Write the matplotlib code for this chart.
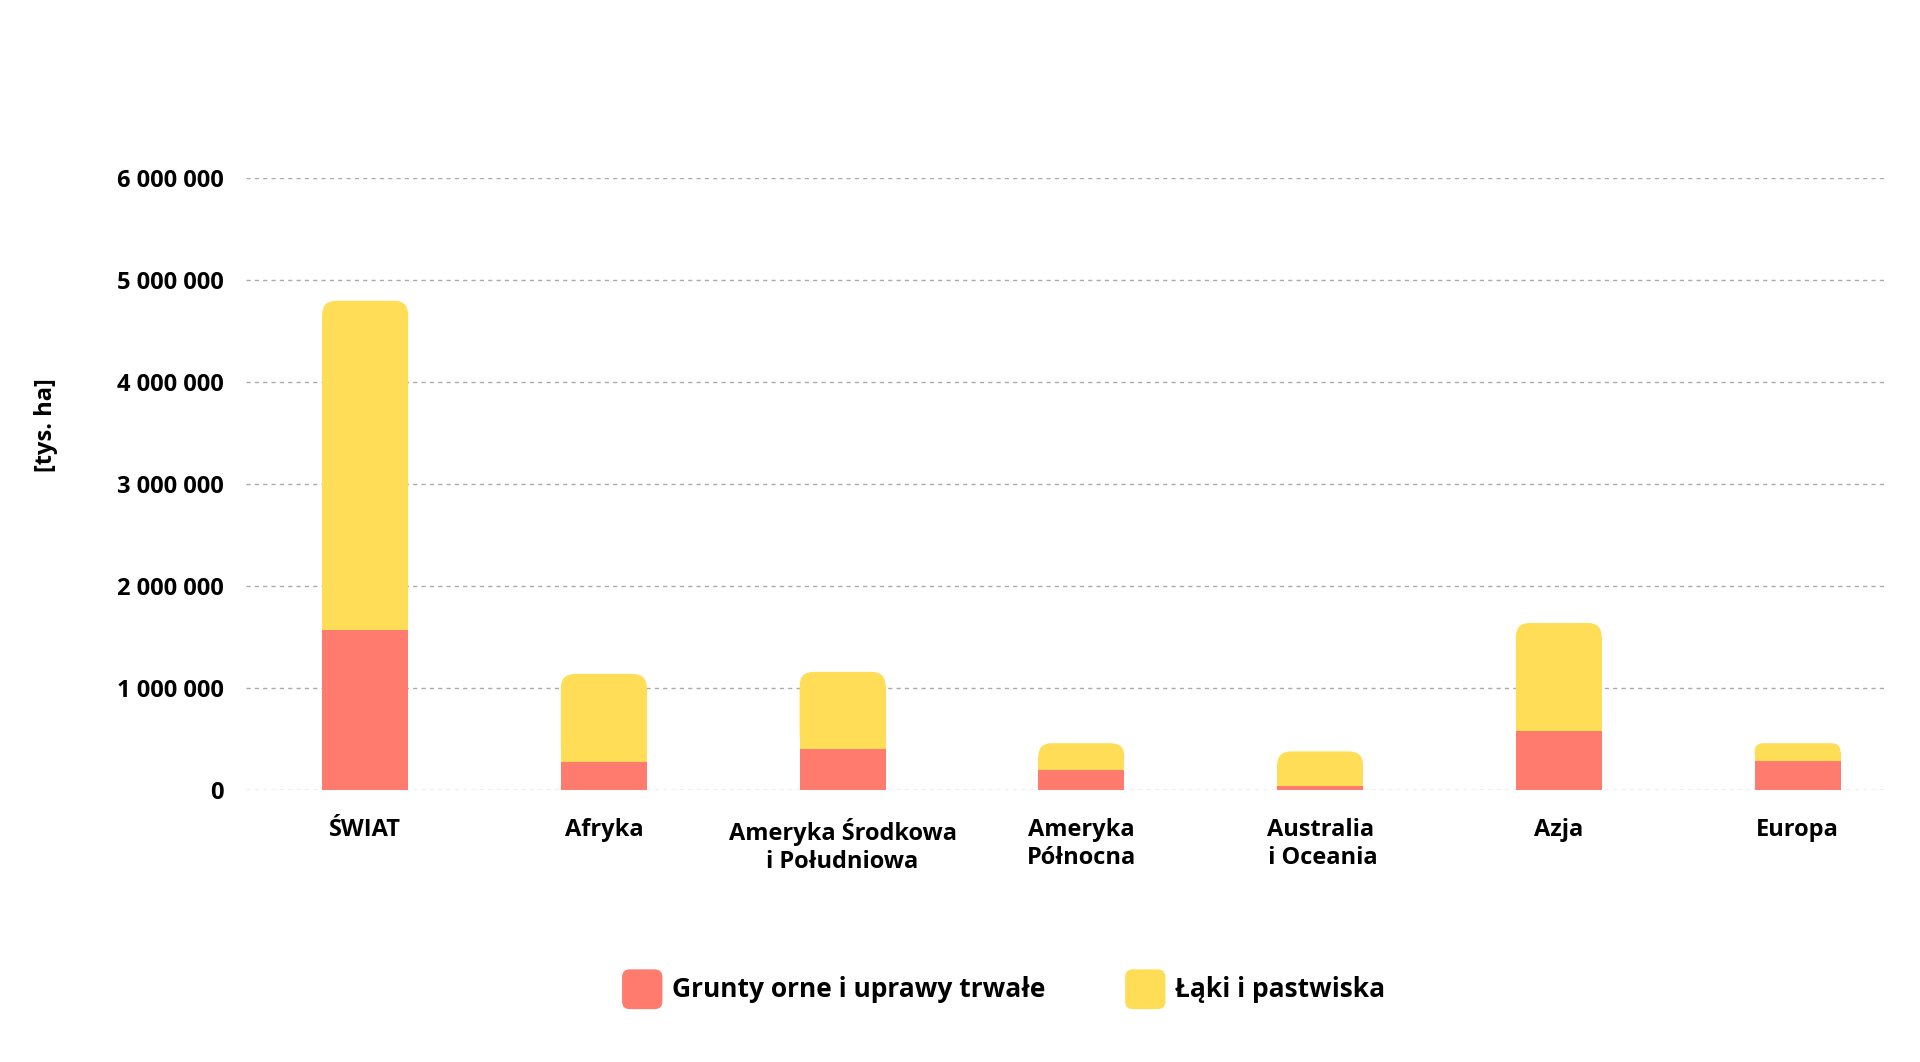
import matplotlib
matplotlib.use("Agg")
import matplotlib.pyplot as plt
from matplotlib.patches import FancyBboxPatch, Rectangle

plt.rcParams['font.family'] = ['Open Sans', 'DejaVu Sans']
plt.rcParams['font.weight'] = 'bold'

categories = ["ŚWIAT", "Afryka", "Ameryka Środkowa\ni Południowa", "Ameryka\nPółnocna",
              "Australia\n i Oceania", "Azja", "Europa"]
arable = [1570000, 280000, 400000, 200000, 40000, 580000, 290000]
meadows = [3230000, 860000, 760000, 260000, 340000, 1060000, 170000]
yticks = [0, 1000000, 2000000, 3000000, 4000000, 5000000, 6000000]

RED = "#FF7B6E"
YEL = "#FFDD57"

fig = plt.figure(figsize=(19.2, 10.62), dpi=100)
ax = fig.add_axes([0.128, 0.256, 0.853, 0.576])
ax.set_xlim(-0.5, 6.36)
ax.set_ylim(0, 6000000)
fig.canvas.draw()
bb = ax.get_window_extent()
xpp = 6.86 / bb.width
ypp = 6000000 / bb.height
w = 0.36
for i, (a, m) in enumerate(zip(arable, meadows)):
    ry = min(14 * ypp, m / 2)
    rx = ry / ypp * xpp
    ax.add_patch(Rectangle((i - w / 2, a), w, m - ry, color=YEL, lw=0, zorder=3))
    ax.add_patch(FancyBboxPatch((i - w / 2 + rx, a + ry), w - 2 * rx, max(m - 2 * ry, 0),
                                boxstyle=f"round,pad={rx}", mutation_aspect=ypp / xpp,
                                color=YEL, lw=0, zorder=3))
    ax.bar(i, a, width=w, color=RED, zorder=4)

ax.set_yticks(yticks)
ax.set_yticklabels([f"{v:,}".replace(",", " ") for v in yticks], fontsize=17, fontweight='bold')
ax.set_xticks(range(len(categories)))
ax.set_xticklabels(categories, fontsize=17, fontweight='bold', linespacing=1.25)
ax.tick_params(length=0)
ax.tick_params(axis='x', pad=20)
ax.tick_params(axis='y', pad=16)
ax.yaxis.grid(True, linestyle=(0, (3, 3)), color="#aaaaaa", lw=1)
ax.set_axisbelow(True)
for s in ax.spines.values():
    s.set_visible(False)

fig.text(0.024, 0.60, "[tys. ha]", rotation=90, fontsize=17, fontweight='bold', va='center', ha='center')

for x0, col, lab in [(0.324, RED, "Grunty orne i uprawy trwałe"), (0.586, YEL, "Łąki i pastwiska")]:
    fig.patches.append(FancyBboxPatch((x0 + 0.004, 0.057), 0.013, 0.023,
                                      boxstyle="round,pad=0.004", transform=fig.transFigure,
                                      color=col, lw=0, mutation_aspect=1920 / 1062))
    fig.text(x0 + 0.026, 0.068, lab, fontsize=19, fontweight='bold', va='center')

fig.savefig("out.png", dpi=100, facecolor="white")
